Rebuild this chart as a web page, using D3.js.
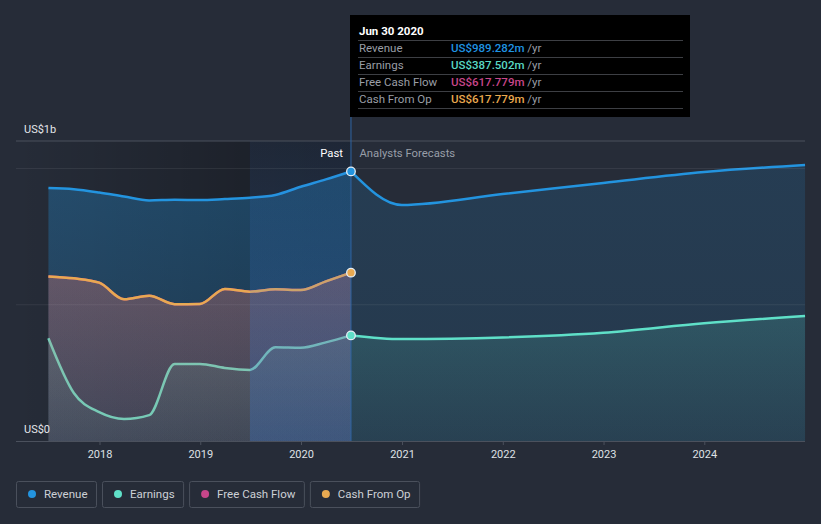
<!DOCTYPE html>
<html>
<head>
<meta charset="utf-8">
<script src="https://cdn.jsdelivr.net/npm/d3@7"></script>
<style>
  html, body { margin: 0; padding: 0; background: #262c38; }
  svg { display: block; font-family: Roboto, "Noto Sans", sans-serif; }
</style>
</head>
<body>
<svg id="chart" width="821" height="524"></svg>
<script>
// ---------------- DATA ----------------
const pastDates = ["2017-06-30","2017-09-30","2017-12-31","2018-03-31","2018-06-30","2018-09-30","2018-12-31","2019-03-31","2019-06-30","2019-09-30","2019-12-31","2020-03-31","2020-06-30"];
const revenuePast = [928, 924, 912, 897, 883, 885, 884, 888, 893, 903, 933, 960, 989.282];
const earningsPast = [377, 176, 106, 81, 95, 283, 283, 268, 261, 344, 342, 362, 387.502];
const freeCashFlowPast = [604, 597, 581, 520, 533, 502, 503, 558, 548, 557, 554, 586, 617.779];
const cashFromOpPast = [604, 597, 581, 520, 533, 502, 503, 558, 548, 557, 554, 586, 617.779];

const forecastDates = ["2020-06-30","2020-12-31","2021-12-31","2022-12-31","2023-12-31","2024-12-31"];
const revenueForecast = [989.282, 866, 906, 947, 987, 1013];
const earningsForecast = [387.502, 374, 380, 397, 432, 459];

const yearTicks = ["2018","2019","2020","2021","2022","2023","2024"];
const yTickLabels = [{v: 0, label: "US$0"}, {v: 1000, label: "US$1b"}];
const legendItems = ["Revenue", "Earnings", "Free Cash Flow", "Cash From Op"];
const tooltipTitle = "Jun 30 2020";
const tooltipRows = [
  {label: "Revenue", value: "US$989.282m"},
  {label: "Earnings", value: "US$387.502m"},
  {label: "Free Cash Flow", value: "US$617.779m"},
  {label: "Cash From Op", value: "US$617.779m"}
];

// ---------------- STYLE ----------------
const colors = {
  "Revenue": "#2394df",
  "Earnings": "#5fe0c8",
  "Free Cash Flow": "#c6468a",
  "Cash From Op": "#e8a951"
};
const tooltipColors = ["#1f93e2", "#5ad8c4", "#c8468a", "#eaa94f"];

const parse = d3.utcParse("%Y-%m-%d");
const svg = d3.select("#chart");
const plotL = 16, plotR = 805, plotTop = 141, baseY = 441;

const x = d3.scaleUtc()
  .domain([parse("2018-01-01"), parse("2024-01-01")])
  .range([99.5, 704.3]);
const y = d3.scaleLinear().domain([0, 1000]).range([baseY, 168.5]);

const pastX = x(parse(pastDates[pastDates.length - 1]));
const highlightStart = x(parse("2019-06-30"));

const defs = svg.append("defs");

function vGrad(id, color, o1, o2) {
  const g = defs.append("linearGradient").attr("id", id)
    .attr("gradientUnits", "userSpaceOnUse")
    .attr("x1", 0).attr("x2", 0).attr("y1", 168).attr("y2", baseY);
  g.append("stop").attr("offset", 0).attr("stop-color", color).attr("stop-opacity", o1);
  g.append("stop").attr("offset", 1).attr("stop-color", color).attr("stop-opacity", o2);
}
vGrad("gRevPast", colors["Revenue"], 0.32, 0.18);
vGrad("gRevFc", colors["Revenue"], 0.16, 0.12);
vGrad("gEarn", colors["Earnings"], 0.30, 0.05);
vGrad("gFcf", colors["Free Cash Flow"], 0.30, 0.10);
vGrad("gCfo", colors["Cash From Op"], 0.22, 0.08);

// past darkening gradient
const dg = defs.append("linearGradient").attr("id", "gDark")
  .attr("gradientUnits", "userSpaceOnUse")
  .attr("x1", plotL).attr("x2", pastX).attr("y1", 0).attr("y2", 0);
dg.append("stop").attr("offset", 0).attr("stop-color", "#000").attr("stop-opacity", 0.0);
dg.append("stop").attr("offset", (highlightStart - plotL) / (pastX - plotL)).attr("stop-color", "#000").attr("stop-opacity", 0.24);
dg.append("stop").attr("offset", 1).attr("stop-color", "#000").attr("stop-opacity", 0.28);

const hg = defs.append("linearGradient").attr("id", "gHigh")
  .attr("gradientUnits", "userSpaceOnUse")
  .attr("x1", 0).attr("x2", 0).attr("y1", plotTop).attr("y2", baseY);
hg.append("stop").attr("offset", 0).attr("stop-color", "#3c82e6").attr("stop-opacity", 0.07);
hg.append("stop").attr("offset", 1).attr("stop-color", "#3c82e6").attr("stop-opacity", 0.27);

// background darkening for past
svg.append("rect").attr("x", plotL).attr("y", plotTop)
  .attr("width", pastX - plotL).attr("height", baseY - plotTop)
  .attr("fill", "url(#gDark)");

function series(dates, vals) {
  return dates.map((d, i) => ({date: parse(d), v: vals[i]}));
}
const area = d3.area().curve(d3.curveMonotoneX)
  .x(d => x(d.date)).y0(y(0)).y1(d => y(d.v));
const line = d3.line().curve(d3.curveMonotoneX)
  .x(d => x(d.date)).y(d => y(d.v));

const revP = series(pastDates, revenuePast);
const revF = series(forecastDates, revenueForecast);
const earnP = series(pastDates, earningsPast);
const earnF = series(forecastDates, earningsForecast);
const fcfP = series(pastDates, freeCashFlowPast);
const cfoP = series(pastDates, cashFromOpPast);

// revenue
svg.append("path").datum(revP).attr("d", area).attr("fill", "url(#gRevPast)");
svg.append("path").datum(revF).attr("d", area).attr("fill", "url(#gRevFc)");
svg.append("path").datum(revP).attr("d", line).attr("fill", "none").attr("stroke", colors["Revenue"]).attr("stroke-width", 2.5);
svg.append("path").datum(revF).attr("d", line).attr("fill", "none").attr("stroke", colors["Revenue"]).attr("stroke-width", 2.5);

// earnings
svg.append("path").datum(earnP).attr("d", area).attr("fill", "url(#gEarn)");
svg.append("path").datum(earnF).attr("d", area).attr("fill", "url(#gEarn)");
svg.append("path").datum(earnP).attr("d", line).attr("fill", "none").attr("stroke", colors["Earnings"]).attr("stroke-width", 2.5);
svg.append("path").datum(earnF).attr("d", line).attr("fill", "none").attr("stroke", colors["Earnings"]).attr("stroke-width", 2.5);

// free cash flow and cash from op
svg.append("path").datum(fcfP).attr("d", area).attr("fill", "url(#gFcf)");
svg.append("path").datum(fcfP).attr("d", line).attr("fill", "none").attr("stroke", colors["Free Cash Flow"]).attr("stroke-width", 2.5);
svg.append("path").datum(cfoP).attr("d", area).attr("fill", "url(#gCfo)");
svg.append("path").datum(cfoP).attr("d", line).attr("fill", "none").attr("stroke", colors["Cash From Op"]).attr("stroke-width", 2.5);

// highlight last-year region
svg.append("rect").attr("x", highlightStart).attr("y", plotTop)
  .attr("width", pastX - highlightStart).attr("height", baseY - plotTop)
  .attr("fill", "url(#gHigh)");

// grid lines
svg.append("line").attr("x1", plotL).attr("x2", plotR).attr("y1", plotTop).attr("y2", plotTop)
  .attr("stroke", "#4b515d").attr("stroke-width", 1);
[500, 1000].forEach(v => {
  svg.append("line").attr("x1", plotL).attr("x2", plotR).attr("y1", y(v)).attr("y2", y(v))
    .attr("stroke", "#ffffff").attr("stroke-opacity", 0.07).attr("stroke-width", 1);
});

// vertical marker line
svg.append("line").attr("x1", pastX).attr("x2", pastX).attr("y1", 117).attr("y2", baseY)
  .attr("stroke", "#2f64a3").attr("stroke-width", 1);

// x axis
const xAxis = d3.axisBottom(x)
  .tickValues(yearTicks.map(t => parse(t + "-01-01")))
  .tickFormat(d3.utcFormat("%Y"))
  .tickSize(4).tickPadding(5);
const gx = svg.append("g").attr("transform", `translate(0,${baseY})`).call(xAxis);
gx.select(".domain").remove();
gx.selectAll(".tick line").attr("stroke", "#4b515d");
gx.selectAll(".tick text").attr("fill", "#dfe1e5").attr("font-size", 11)
  .attr("font-family", "Roboto, sans-serif");
svg.append("line").attr("x1", plotL).attr("x2", plotR).attr("y1", baseY + 0.5).attr("y2", baseY + 0.5)
  .attr("stroke", "#4b515d").attr("stroke-width", 1);

// y labels
svg.append("text").attr("x", 24).attr("y", 433).attr("fill", "#e4e6ea").attr("font-size", 11).text(yTickLabels[0].label);
svg.append("text").attr("x", 24).attr("y", 132.5).attr("fill", "#e4e6ea").attr("font-size", 11).text(yTickLabels[1].label);

// past / forecast labels
svg.append("text").attr("x", pastX - 8).attr("y", 157).attr("text-anchor", "end")
  .attr("fill", "#ffffff").attr("font-size", 11.3).text("Past");
svg.append("text").attr("x", pastX + 8.5).attr("y", 157)
  .attr("fill", "#989ea8").attr("font-size", 11.3).text("Analysts Forecasts");

// end dots
[[revenuePast, "Revenue"], [cashFromOpPast, "Cash From Op"], [earningsPast, "Earnings"]].forEach(([arr, k]) => {
  svg.append("circle").attr("cx", pastX).attr("cy", y(arr[arr.length - 1])).attr("r", 4.3)
    .attr("fill", colors[k]).attr("stroke", "#e6eef5").attr("stroke-width", 1.3);
});

// tooltip
const tt = svg.append("g");
tt.append("rect").attr("x", 350).attr("y", 15).attr("width", 340).attr("height", 102).attr("fill", "#000000");
tt.append("text").attr("x", 359).attr("y", 35).attr("fill", "#ffffff").attr("font-size", 11.5)
  .attr("font-weight", "bold").text(tooltipTitle);
tooltipRows.forEach((r, i) => {
  const ly = 40.5 + i * 17;
  tt.append("line").attr("x1", 358).attr("x2", 683).attr("y1", ly).attr("y2", ly)
    .attr("stroke", "#3d3f44").attr("stroke-width", 1);
  tt.append("text").attr("x", 359).attr("y", ly + 11.5).attr("fill", "#9a9ea6").attr("font-size", 11.5).text(r.label);
  const t = tt.append("text").attr("x", 451).attr("y", ly + 11.5).attr("font-size", 11.5);
  t.append("tspan").attr("fill", tooltipColors[i]).attr("font-weight", 500).text(r.value);
  t.append("tspan").attr("fill", "#9a9ea6").text(" /yr");
});
tt.append("line").attr("x1", 358).attr("x2", 683).attr("y1", 108.5).attr("y2", 108.5)
  .attr("stroke", "#3d3f44").attr("stroke-width", 1);

// legend
let lx = 16;
legendItems.forEach(name => {
  const g = svg.append("g");
  const txt = g.append("text").attr("x", lx + 28).attr("y", 498).attr("fill", "#cdd0d6")
    .attr("font-size", 11.5).text(name);
  const tw = txt.node().getComputedTextLength();
  const bw = 28 + tw + 9.5;
  g.insert("rect", "text").attr("x", lx + 0.5).attr("y", 481.5).attr("width", bw - 1).attr("height", 26)
    .attr("rx", 2).attr("fill", "none").attr("stroke", "#4a505c").attr("stroke-width", 1);
  g.append("circle").attr("cx", lx + 16).attr("cy", 494).attr("r", 4).attr("fill", colors[name]);
  lx += bw + 5;
});
</script>
</body>
</html>
